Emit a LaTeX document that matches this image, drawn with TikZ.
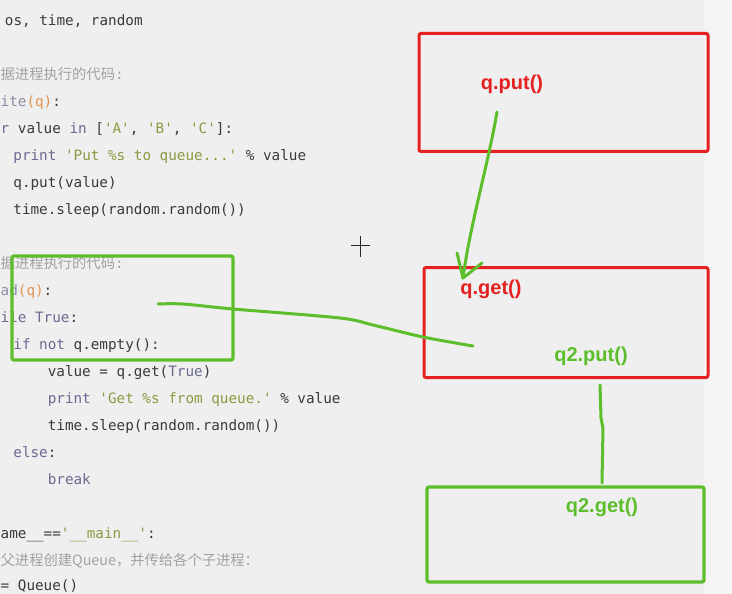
\documentclass[tikz,border=0pt]{standalone}
\usepackage{fontspec}
\setmonofont{DejaVu Sans Mono}
\newfontfamily\cjk{Noto Sans CJK SC}
\newfontfamily\lab{Liberation Sans}
\definecolor{bgC}{HTML}{EFEFEF}
\definecolor{bgR}{HTML}{F4F4F4}
\definecolor{codeC}{HTML}{3A3A3A}
\definecolor{kwC}{HTML}{6A6A92}
\definecolor{fnC}{HTML}{8C8CA8}
\definecolor{strC}{HTML}{8A9A42}
\definecolor{argC}{HTML}{E3934E}
\definecolor{cmtC}{HTML}{A2A2A2}
\definecolor{penR}{HTML}{E42020}
\definecolor{penG}{HTML}{5DBE2C}
\newcommand{\kw}[1]{\textcolor{kwC}{#1}}
\newcommand{\st}[1]{\textcolor{strC}{#1}}
\newcommand{\ar}[1]{\textcolor{argC}{#1}}
\newcommand{\fn}[1]{\textcolor{fnC}{#1}}
\begin{document}
\begin{tikzpicture}[x=1pt,y=-1pt,
  code/.style={anchor=base west,inner sep=0pt,font=\fontsize{14.3}{16}\ttfamily,text=codeC},
  cmt/.style={anchor=base west,inner sep=0pt,font=\fontsize{14.3}{16}\cjk,text=cmtC},
  redbox/.style={draw=penR,line width=3pt,rounded corners=2pt,inner sep=0pt},
  greenbox/.style={draw=penG,line width=3.2pt,rounded corners=2pt,inner sep=0pt},
  redlab/.style={font=\fontsize{20}{22}\lab\bfseries,text=penR,inner sep=0pt},
  greenlab/.style={font=\fontsize{20}{22}\lab\bfseries,text=penG,inner sep=0pt},
  pen/.style={draw=penG,line width=3pt,line cap=round,line join=round}]
\useasboundingbox (0,0) rectangle (732,594);
\fill[bgC] (0,0) rectangle (732,594);
\fill[bgR] (704,0) rectangle (732,594);
% code lines
\node[code] (l1) at (4.7,25.5) {os, time, random};
\node[cmt] (l3) at (0.5,79.5) {据进程执行的代码\texttt{:}};
\node[code] (l4) at (0.5,106.5) {\fn{ite}\ar{(q)}:};
\node[code] (l5) at (0.5,133.5) {\kw{r} value \kw{in} [\st{'A'}, \st{'B'}, \st{'C'}]:};
\node[code] (l6) at (13.2,160.5) {\kw{print} \st{'Put \%s to queue...'} \% value};
\node[code] (l7) at (13.2,187.5) {q.put(value)};
\node[code] (l8) at (13.2,214.5) {time.sleep(random.random())};
\node[cmt] (l10) at (0.5,268.5) {据进程执行的代码\texttt{:}};
\node[code] (l11) at (0.5,295.5) {\fn{ad}\ar{(q)}:};
\node[code] (l12) at (0.5,322.5) {\kw{ile} \kw{True}:};
\node[code] (l13) at (13.2,349.5) {\kw{if} \kw{not} q.empty():};
\node[code] (l14) at (47.6,376.5) {value = q.get(\kw{True})};
\node[code] (l15) at (47.6,403.5) {\kw{print} \st{'Get \%s from queue.'} \% value};
\node[code] (l16) at (47.6,430.5) {time.sleep(random.random())};
\node[code] (l17) at (13.2,457.5) {\kw{else}:};
\node[code] (l18) at (47.6,484.5) {\kw{break}};
\node[code] (l20) at (0.5,538.5) {ame\_\_==\st{'\_\_main\_\_'}:};
\node[cmt] (l21) at (0.5,565.5) {父进程创建Queue，并传给各个子进程：};
\node[code] (l22) at (0.5,590.5) {= Queue()};
% cursor
\draw[line width=1.4pt,draw=black!85] (351,245.5) -- (370,245.5) (360.5,235.5) -- (360.5,256.5);
% boxes
\node[redbox,minimum width=289pt,minimum height=118pt] (b1) at (563.5,92.5) {};
\node[redbox,minimum width=284pt,minimum height=110pt] (b2) at (566,322.5) {};
\node[greenbox,minimum width=277pt,minimum height=95pt] (b3) at (565.5,534.5) {};
\node[greenbox,minimum width=221pt,minimum height=104pt] (cb) at (122.5,308) {};
% labels
\node[redlab] (t1) at (512,84) {q.put()};
\node[redlab] (t2) at (491,289) {q.get()};
\node[greenlab] (t3) at (591,356) {q2.put()};
\node[greenlab] (t4) at (602,507) {q2.get()};
% connectors
\coordinate (a0) at (497,112);
\coordinate (tip) at (463,278);
\coordinate (h1) at (457,253);
\coordinate (h2) at (482,263);
\draw[pen] (a0) .. controls (488,165) and (470,225) .. (tip);
\draw[pen] (h1) -- (tip) -- (h2);
\coordinate (c0) at (158,304);
\coordinate (c1) at (473,346);
\draw[pen] plot[smooth,tension=0.5] coordinates {(c0) (183,304) (233,309) (340,318) (373,325) (423,337) (c1)};
\coordinate (v0) at (600,385);
\coordinate (v1) at (602,483);
\draw[pen] (v0) -- (601,418) -- (603,428) -- (v1);
\end{tikzpicture}
\end{document}
